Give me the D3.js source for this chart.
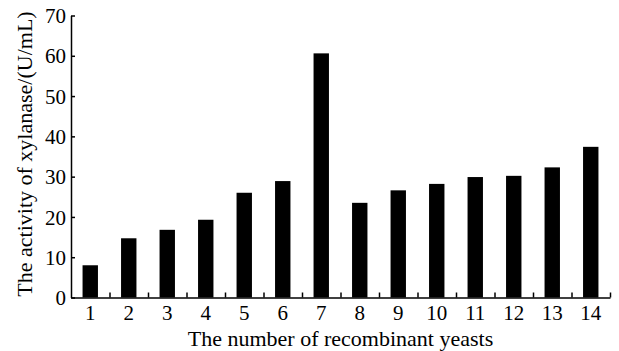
<!DOCTYPE html>
<html>
<head>
<meta charset="utf-8">
<script src="https://cdn.jsdelivr.net/npm/d3@7"></script>
<style>
  body { margin: 0; background: #fff; }
  svg text { font-family: "Liberation Serif", "Times New Roman", serif; fill: #000; }
</style>
</head>
<body>
<svg id="chart" width="619" height="351"></svg>
<script>
    // Data
    const strains = ['1', '2', '3', '4', '5', '6', '7', '8', '9', '10', '11', '12', '13', '14'];
    const activity = [8.0, 14.7, 16.8, 19.3, 26.0, 28.9, 60.6, 23.5, 26.6, 28.2, 29.9, 30.2, 32.3, 37.4];
    const yTicks = [0, 10, 20, 30, 40, 50, 60, 70];

    const svg = d3.select('#chart');
    const plotLeft = 71, plotRight = 610, plotTop = 15.5, plotBottom = 297.5;

    const x = d3.scaleBand()
        .domain(strains)
        .range([plotLeft, plotRight])
        .paddingInner(0.6)
        .paddingOuter(0.3);

    // boundaries between the bars, for the small upward ticks
    const xEdge = d3.scaleLinear()
        .domain([0, strains.length])
        .range([plotLeft, plotRight]);

    const y = d3.scaleLinear()
        .domain([0, 70])
        .range([plotBottom, plotTop]);

    // Bars
    svg.append('g')
        .selectAll('rect')
        .data(activity)
        .enter()
        .append('rect')
        .attr('x', (d, i) => x(strains[i]))
        .attr('y', d => y(d))
        .attr('width', x.bandwidth())
        .attr('height', d => y(0) - y(d))
        .attr('fill', '#000');

    // Y axis, ticks pointing inward
    const yAxis = svg.append('g')
        .attr('transform', `translate(${plotLeft},0)`)
        .call(d3.axisLeft(y).tickValues(yTicks).tickSize(-4).tickSizeOuter(0).tickPadding(5));
    yAxis.selectAll('text').style('font-size', '21px').attr('dy', '0.34em');

    // X axis ticks at the boundaries
    svg.append('g')
        .attr('transform', `translate(0,${plotBottom})`)
        .call(d3.axisBottom(xEdge).tickValues(d3.range(1, strains.length + 1)).tickSize(-5).tickSizeOuter(0).tickFormat(''));

    // X tick labels under the bars
    const xLabels = svg.append('g')
        .attr('transform', `translate(0,${plotBottom})`)
        .call(d3.axisBottom(x).tickSize(0).tickPadding(8));
    xLabels.select('.domain').remove();
    xLabels.selectAll('text').style('font-size', '21px');

    svg.selectAll('.domain, .tick line')
        .attr('stroke', '#000')
        .attr('stroke-width', 1.5);

    // Axis titles
    svg.append('text')
        .attr('x', (plotLeft + plotRight) / 2)
        .attr('y', 346)
        .attr('text-anchor', 'middle')
        .style('font-size', '22px')
        .text('The number of recombinant yeasts');

    svg.append('text')
        .attr('transform', 'translate(32,154) rotate(-90)')
        .attr('text-anchor', 'middle')
        .style('font-size', '22px')
        .text('The activity of xylanase/(U/mL)');
</script>
</body>
</html>
